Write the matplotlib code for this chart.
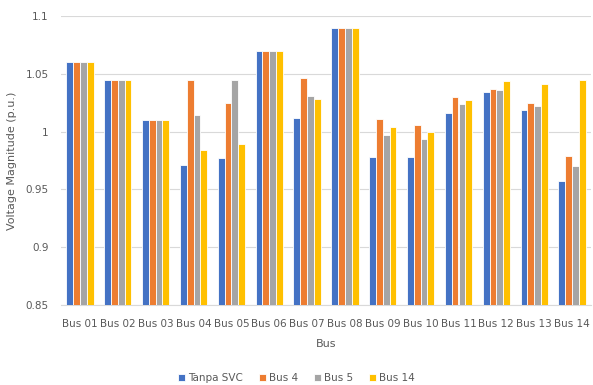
import matplotlib
matplotlib.use("Agg")
import matplotlib.pyplot as plt
import numpy as np

buses = ["Bus 01", "Bus 02", "Bus 03", "Bus 04", "Bus 05", "Bus 06", "Bus 07",
         "Bus 08", "Bus 09", "Bus 10", "Bus 11", "Bus 12", "Bus 13", "Bus 14"]
tanpa_svc = [1.06, 1.045, 1.01, 0.971, 0.977, 1.07, 1.012, 1.09, 0.978, 0.978, 1.016, 1.034, 1.019, 0.957]
bus_4 = [1.06, 1.045, 1.01, 1.045, 1.025, 1.07, 1.046, 1.09, 1.011, 1.006, 1.030, 1.037, 1.025, 0.979]
bus_5 = [1.06, 1.045, 1.01, 1.014, 1.045, 1.07, 1.031, 1.09, 0.997, 0.994, 1.024, 1.036, 1.022, 0.970]
bus_14 = [1.06, 1.045, 1.01, 0.984, 0.989, 1.07, 1.028, 1.09, 1.004, 1.000, 1.027, 1.044, 1.041, 1.045]

series = [("Tanpa SVC", tanpa_svc, "#4472C4"),
          ("Bus 4", bus_4, "#ED7D31"),
          ("Bus 5", bus_5, "#A5A5A5"),
          ("Bus 14", bus_14, "#FFC000")]

text_color = "#595959"
fig = plt.figure(figsize=(5.93, 3.85), dpi=100)
ax = fig.add_axes([61 / 593, 1 - 305 / 385, 530 / 593, 289 / 385])

x = np.arange(len(buses))
w = 0.18
for i, (name, vals, col) in enumerate(series):
    ax.bar(x + (i - 1.5) * w, vals, width=w, color=col, edgecolor="white",
           linewidth=0.6, label=name, zorder=3)

ax.set_ylim(0.85, 1.1)
ax.set_yticks([0.85, 0.9, 0.95, 1.0, 1.05, 1.1])
ax.set_yticklabels(["0.85", "0.9", "0.95", "1", "1.05", "1.1"])
ax.set_xlim(-0.5, len(buses) - 0.5)
ax.set_xticks(x)
ax.set_xticklabels(buses)
ax.grid(axis="y", color="#D9D9D9", linewidth=0.8, zorder=0)
for s in ["top", "right", "left"]:
    ax.spines[s].set_visible(False)
ax.spines["bottom"].set_color("#D9D9D9")
ax.tick_params(axis="both", length=0, colors=text_color, labelsize=7.5)
ax.tick_params(axis="x", pad=10)
ax.tick_params(axis="y", pad=9)

ax.set_xlabel("Bus", color=text_color, fontsize=8, labelpad=7)
ax.set_ylabel("Voltage Magnitude (p.u.)", color=text_color, fontsize=8, labelpad=6)

fig.legend(loc="center", bbox_to_anchor=(0.5, 1 - 378 / 385), ncol=4, frameon=False,
           fontsize=7.5, handlelength=0.7, handleheight=0.7, handletextpad=0.3,
           columnspacing=1.5, labelcolor=text_color)

fig.savefig("out.png", dpi=100)
